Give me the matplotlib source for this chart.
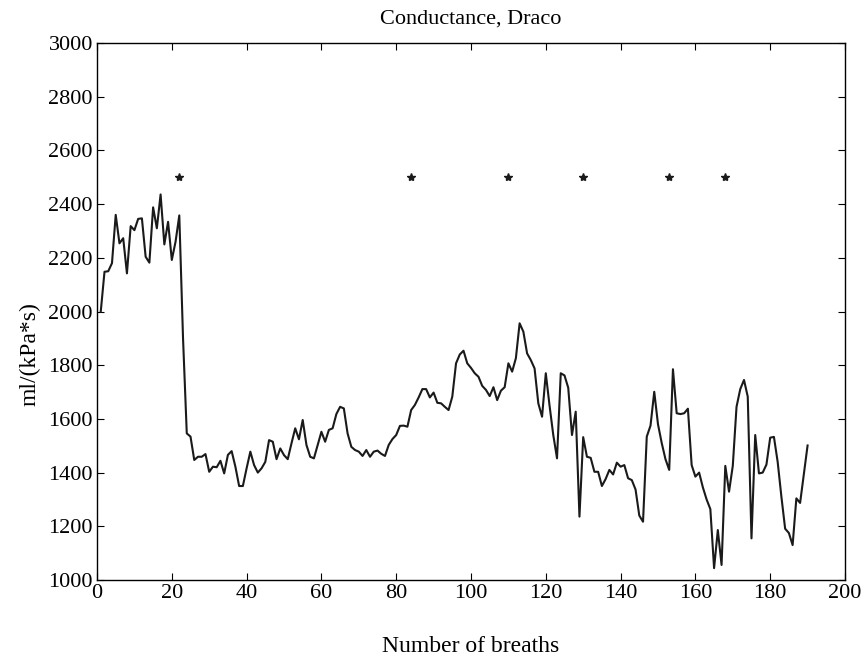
import numpy as np
import matplotlib
matplotlib.use("Agg")
import matplotlib.pyplot as plt

# conductance per breath
conductance = [
    2000, 2148, 2150, 2180, 2360, 2254, 2273, 2142, 2318, 2303,
    2345, 2347, 2204, 2182, 2388, 2310, 2436, 2250, 2334, 2192,
    2260, 2358, 1900, 1546, 1534, 1447, 1459, 1459, 1469, 1403,
    1422, 1420, 1444, 1397, 1466, 1480, 1422, 1350, 1350, 1416,
    1478, 1428, 1400, 1416, 1440, 1521, 1515, 1450, 1490, 1465,
    1450, 1509, 1565, 1524, 1596, 1503, 1459, 1453, 1503, 1552,
    1515, 1559, 1565, 1618, 1645, 1639, 1546, 1496, 1484, 1478,
    1462, 1484, 1459, 1478, 1482, 1470, 1462, 1503, 1525, 1540,
    1574, 1575, 1571, 1633, 1652, 1680, 1711, 1711, 1680, 1698,
    1660, 1658, 1645, 1633, 1683, 1807, 1840, 1854, 1807, 1790,
    1770, 1757, 1723, 1708, 1685, 1718, 1670, 1705, 1718, 1807,
    1776, 1826, 1956, 1925, 1844, 1819, 1788, 1658, 1608, 1770,
    1650, 1540, 1453, 1770, 1762, 1716, 1540, 1627, 1236, 1532,
    1459, 1455, 1403, 1403, 1350, 1376, 1410, 1393, 1437, 1422,
    1428, 1379, 1372, 1337, 1240, 1217, 1534, 1575, 1701, 1580,
    1510, 1450, 1410, 1785, 1621, 1618, 1621, 1638, 1428, 1385,
    1400, 1345, 1300, 1264, 1044, 1186, 1056, 1425, 1329, 1425,
    1645, 1711, 1745, 1683, 1155, 1540, 1397, 1400, 1430, 1530,
    1533, 1440, 1310, 1191, 1175, 1130, 1304, 1287, 1395, 1501,
]
breaths = np.arange(1, len(conductance) + 1)

# event markers along the top
star_breaths = [22, 84, 110, 130, 153, 168]
star_level = [2500] * len(star_breaths)

plt.rcParams["font.family"] = ["Liberation Serif", "DejaVu Serif"]

fig = plt.figure(figsize=(8.67, 6.59), dpi=100)
ax = fig.add_axes([0.1119, 0.1199, 0.8627, 0.8148])

ax.plot(breaths, conductance, color="#1a1a1a", linewidth=1.5)
ax.plot(star_breaths, star_level, linestyle="none", marker="*",
        color="#1a1a1a", markersize=6)

ax.set_xlim(0, 200)
ax.set_ylim(1000, 3000)
ax.set_xticks(np.arange(0, 201, 20))
ax.set_yticks(np.arange(1000, 3001, 200))
ax.tick_params(direction="in", top=True, right=True, labelsize=16, length=5,
               pad=3)
for side in ax.spines.values():
    side.set_linewidth(1.0)

ax.set_title("Conductance, Draco", fontsize=16, pad=14)
ax.set_ylabel("ml/(kPa*s)", fontsize=17)
ax.yaxis.set_label_coords(-0.076, 0.42)
ax.set_xlabel("Number of breaths", fontsize=17)
ax.xaxis.set_label_coords(0.5, -0.104)

fig.savefig("out.png", dpi=100)
